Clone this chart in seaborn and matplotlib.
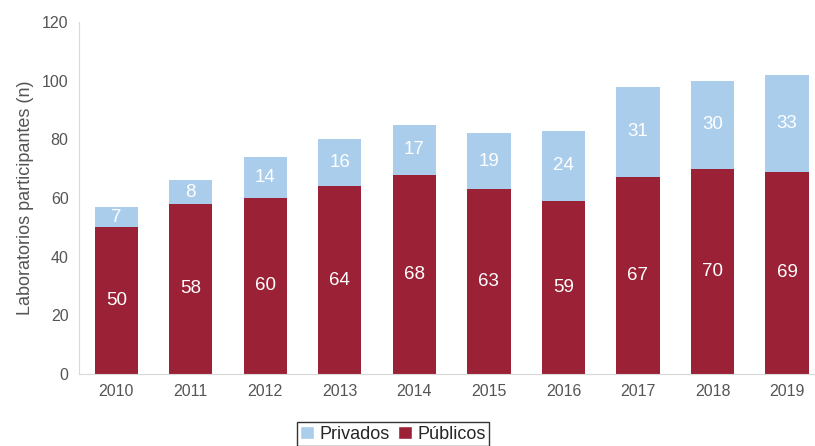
import matplotlib
matplotlib.use("Agg")
import matplotlib.pyplot as plt
import seaborn as sns
import pandas as pd
from matplotlib.patches import Patch

years = ["2010", "2011", "2012", "2013", "2014", "2015", "2016", "2017", "2018", "2019"]
publicos = [50, 58, 60, 64, 68, 63, 59, 67, 70, 69]
privados = [7, 8, 14, 16, 17, 19, 24, 31, 30, 33]
yticks = [0, 20, 40, 60, 80, 100, 120]

red = "#9b2236"
blue = "#aacdec"
grey_txt = "#555555"
axis_col = "#d9d9d9"

df = pd.DataFrame({"year": years, "publicos": publicos, "privados": privados})
df["total"] = df["publicos"] + df["privados"]

sns.set_style("white")
plt.rcParams["font.family"] = ["Liberation Sans", "DejaVu Sans"]

fig = plt.figure(figsize=(8.15, 4.46), dpi=100)
ax = fig.add_axes([79 / 815, 72 / 446, 1 - 79 / 815, (374 - 22) / 446])

sns.barplot(data=df, x="year", y="total", color=blue, width=0.58, linewidth=0, saturation=1, ax=ax)
sns.barplot(data=df, x="year", y="publicos", color=red, width=0.58, linewidth=0, saturation=1, ax=ax)

for i, (p, q) in enumerate(zip(publicos, privados)):
    ax.text(i, p / 2, str(p), ha="center", va="center", color="white", fontsize=13.5)
    ax.text(i, p + q / 2, str(q), ha="center", va="center", color="white", fontsize=13.5)

ax.set_xlim(-0.5, 9.375)
ax.set_ylim(0, 120)
ax.set_yticks(yticks)
ax.set_xlabel("")
ax.set_ylabel("Laboratorios participantes (n)", fontsize=13, color=grey_txt, labelpad=6)
ax.tick_params(axis="y", labelsize=11.5, colors=grey_txt, length=4, color=axis_col, width=0.8)
ax.tick_params(axis="x", labelsize=11.5, colors=grey_txt, length=0, pad=7)
for s in ["top", "right"]:
    ax.spines[s].set_visible(False)
for s in ["left", "bottom"]:
    ax.spines[s].set_color(axis_col)
    ax.spines[s].set_linewidth(0.8)

handles = [Patch(facecolor=blue, label="Privados"), Patch(facecolor=red, label="Públicos")]
leg = fig.legend(handles=handles, loc="upper center", bbox_to_anchor=(393 / 815, 24 / 446),
                 ncol=2, frameon=True, fancybox=False, fontsize=13, handlelength=0.75,
                 handleheight=0.75, handletextpad=0.3, columnspacing=0.5, borderpad=0.2,
                 borderaxespad=0)
leg.get_frame().set_edgecolor("black")
leg.get_frame().set_linewidth(1.0)

fig.savefig("out.png", dpi=100)
